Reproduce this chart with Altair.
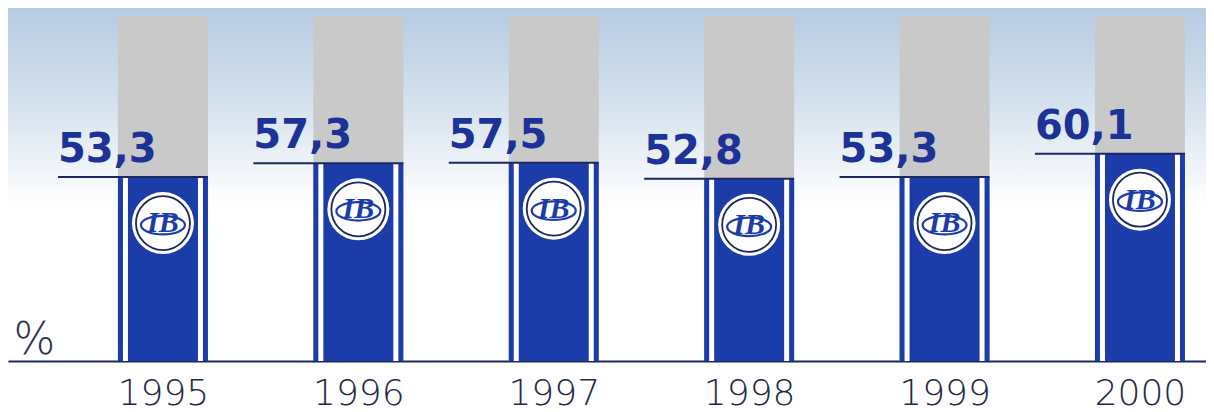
import altair as alt
import pandas as pd

years = [1995, 1996, 1997, 1998, 1999, 2000]
values = [53.3, 57.3, 57.5, 52.8, 53.3, 60.1]
labels = ["53,3", "57,3", "57,5", "52,8", "53,3", "60,1"]
full = [100, 100, 100, 100, 100, 100]

df = pd.DataFrame({"year": years, "value": values, "label": labels, "full": full})

W, H = 1198, 345
BLUE = "#1c3caa"
NAVY = "#1d2760"
LABEL = "#1c3296"
GRAY = "#c9c9c9"

xscale = alt.Scale(domain=[1994.207, 2000.338], nice=False, zero=False, padding=0)
yscale = alt.Scale(domain=[0, 100], nice=False, padding=0)

X = alt.X(
    "year:Q",
    scale=xscale,
    axis=alt.Axis(
        values=years, format="d", ticks=False, grid=False,
        labelFontSize=36, labelFont="DejaVu Sans", labelFontWeight=200,
        labelColor="#1f2a48",
        labelPadding=15, domainColor=NAVY, domainWidth=2, title=None,
        labelFlush=False, labelOverlap=False,
    ),
)
Yfull = alt.Y(
    "full:Q",
    scale=yscale,
    axis=alt.Axis(
        labels=False, ticks=False, domain=False, grid=False,
        title="%", titleAngle=0, titleX=5, titleY=337, titleAlign="left",
        titleBaseline="alphabetic", titleFontSize=44, titleFontWeight=200,
        titleFont="DejaVu Sans", titleColor="#2a3150",
    ),
)
Xp = alt.X("year:Q", scale=xscale)
Yv = alt.Y("value:Q", scale=yscale)

bg = alt.Chart(pd.DataFrame({"a": [0]})).mark_rect(
    color=alt.Gradient(
        gradient="linear",
        stops=[
            alt.GradientStop(color="#b6cbe2", offset=0),
            alt.GradientStop(color="#d6e2ee", offset=0.5),
            alt.GradientStop(color="#ffffff", offset=1),
        ],
        x1=0, x2=0, y1=0, y2=1,
    )
).encode(x=alt.value(0), x2=alt.value(W), y=alt.value(-8), y2=alt.value(190))

base = alt.Chart(df)
gray = base.mark_bar(width=90, color=GRAY).encode(x=X, y=Yfull)
blue = base.mark_bar(width=90, color=BLUE).encode(x=Xp, y=Yv)
white = base.mark_bar(width=80, color="white").encode(x=Xp, y=Yv)
inner = base.mark_bar(width=70, color=BLUE).encode(x=Xp, y=Yv)
rule = base.mark_rule(color=NAVY, strokeWidth=2, xOffset=-105, x2Offset=45).encode(
    x=Xp, x2="year:Q", y=Yv
)
text = base.mark_text(
    align="left", baseline="alphabetic", dx=-105, dy=-15,
    font="DejaVu Sans", fontWeight="bold", fontSize=40, color=LABEL,
).encode(x=Xp, y=Yv, text="label:N")
disk = base.mark_point(
    shape="circle", filled=True, fill="white", size=3844, opacity=1, strokeWidth=0, yOffset=46
).encode(x=Xp, y=Yv)
ring = base.mark_point(
    shape="circle", filled=False, stroke=NAVY, strokeWidth=1.8, size=2916, opacity=1, yOffset=46
).encode(x=Xp, y=Yv)
swoosh = base.mark_point(
    shape="M -1 0 A 1 0.42 0 1 1 1 0 A 1 0.42 0 1 1 -1 0",
    filled=False, stroke=BLUE, strokeWidth=2.2, size=1936, opacity=1, yOffset=48,
).encode(x=Xp, y=Yv)
logo = base.mark_text(
    text="IB", font="Liberation Serif", fontStyle="italic", fontWeight="bold",
    fontSize=30, color=BLUE, dy=46, baseline="middle", align="center",
).encode(x=Xp, y=Yv)

chart = alt.layer(bg, gray, blue, white, inner, rule, text, disk, ring, swoosh, logo).properties(
    width=W, height=H,
    padding={"left": 0, "top": 8, "right": 0, "bottom": 51},
    autosize=alt.AutoSizeParams(type="none"),
    background="white",
).configure_view(stroke=None)

chart.save("out.html", embed_options={"renderer": "svg", "actions": False})
